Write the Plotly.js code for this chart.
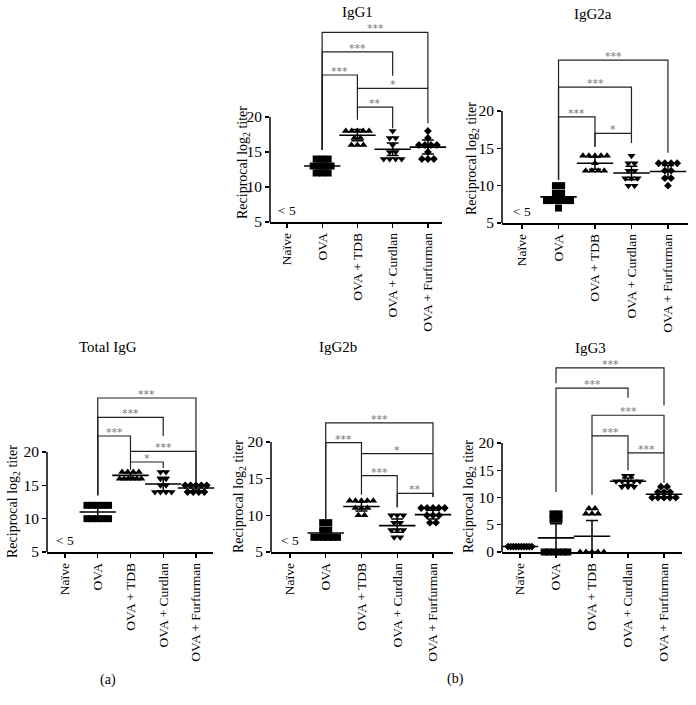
<!DOCTYPE html>
<html>
<head>
<meta charset="utf-8">
<script src="https://cdn.plot.ly/plotly-3.0.1.min.js"></script>
<style>html,body{margin:0;padding:0;background:#fff}#chart{width:696px;height:705px}</style>
</head>
<body>
<div id="chart"></div>
<script>
// ---------- DATA ----------
const categories = ['Naïve', 'OVA', 'OVA + TDB', 'OVA + Curdlan', 'OVA + Furfurman'];
const panelNames = ['IgG1', 'IgG2a', 'Total IgG', 'IgG2b', 'IgG3'];

// IgG1 (Naïve below detection: < 5)
const igg1OVA = [14, 14, 14, 13, 13, 13, 13, 12, 12, 12];
const igg1TDB = [18, 18, 18, 18, 18, 17, 17, 16, 16, 16];
const igg1Curdlan = [18, 17, 17, 16, 15, 15, 14, 14, 14, 14];
const igg1Furfurman = [18, 17, 16, 16, 16, 16, 15, 14, 14, 14];
const igg1Mean = [null, 13.0, 17.4, 15.4, 15.7];
const igg1Err = [0, 0.6, 0.8, 0.9, 1.0];

// IgG2a
const igg2aOVA = [10, 10, 9, 9, 8, 8, 8, 8, 8, 7];
const igg2aTDB = [14, 14, 14, 14, 14, 13, 12, 12, 12, 12];
const igg2aCurdlan = [14, 13, 13, 12, 12, 11, 11, 11, 10, 10];
const igg2aFurfurman = [13, 13, 13, 13, 12, 12, 11, 11, 10];
const igg2aMean = [null, 8.5, 13.0, 11.7, 11.9];
const igg2aErr = [0, 0.8, 0.8, 0.9, 0.8];

// Total IgG
const totalOVA = [12, 12, 12, 12, 12, 10, 10, 10, 10, 10];
const totalTDB = [17, 17, 17, 17, 16, 16, 16, 16, 16, 16];
const totalCurdlan = [17, 17, 16, 16, 15, 15, 14, 14, 14, 14];
const totalFurfurman = [15, 15, 15, 15, 15, 14, 14, 14, 14];
const totalMean = [null, 11.0, 16.5, 15.2, 14.6];
const totalErr = [0, 0.7, 0.4, 1.0, 0.4];

// IgG2b
const igg2bOVA = [9, 9, 8, 8, 7, 7, 7, 7, 7, 7];
const igg2bTDB = [12, 12, 12, 12, 12, 11, 11, 11, 10, 10];
const igg2bCurdlan = [10, 10, 10, 9, 9, 8, 8, 8, 7, 7];
const igg2bFurfurman = [11, 11, 11, 11, 11, 10, 10, 10, 9, 9];
const igg2bMean = [null, 7.6, 11.2, 8.6, 10.1];
const igg2bErr = [0, 0.5, 0.6, 0.9, 0.6];

// IgG3
const igg3Naive = [1, 1, 1, 1, 1, 1, 1, 1, 1, 1];
const igg3OVA = [7, 7, 6, 6, 0, 0, 0, 0, 0, 0];
const igg3TDB = [8, 8, 7, 7, 7, 0, 0, 0, 0, 0];
const igg3Curdlan = [14, 14, 13, 13, 13, 13, 13, 12, 12, 12];
const igg3Furfurman = [12, 12, 11, 11, 11, 10, 10, 10, 10, 10];
const igg3Mean = [1.0, 2.6, 2.9, 13.0, 10.6];
const igg3Err = [0, 2.6, 2.9, 0.6, 0.5];

const belowLabel = '< 5';

// significance brackets: [groupA, groupB, level, endA, endB, label]
const igg1Brackets = [
  [1, 4, 32.1, 15.3, 24.1, '***'],
  [1, 3, 29.3, 15.3, 25.9, '***'],
  [1, 2, 26.0, 15.3, 24.1, '***'],
  [2, 4, 24.1, 21.4, 19.1, '*'],
  [2, 3, 21.4, 19.6, 18.4, '**']
];
const igg2aBrackets = [
  [1, 4, 26.8, 10.8, 14.4, '***'],
  [1, 3, 23.2, 10.8, 17.0, '***'],
  [1, 2, 19.2, 10.8, 15.2, '***'],
  [2, 3, 17.0, 15.2, 15.7, '*']
];
const totalBrackets = [
  [1, 4, 28.1, 13.5, 15.5, '***'],
  [1, 3, 25.2, 13.5, 22.4, '***'],
  [1, 2, 22.4, 13.5, 20.1, '***'],
  [2, 4, 20.1, 18.5, 15.5, '***'],
  [2, 3, 18.5, 17.3, 17.6, '*']
];
const igg2bBrackets = [
  [1, 4, 22.6, 9.5, 18.4, '***'],
  [1, 2, 19.9, 9.5, 18.4, '***'],
  [2, 4, 18.4, 15.4, 12.5, '*'],
  [2, 3, 15.4, 12.8, 11.1, '***'],
  [3, 4, 13.0, 11.1, 12.5, '**']
];
const igg3Brackets = [
  [1, 4, 33.8, 31.0, 26.9, '***'],
  [1, 3, 30.1, 11.0, 28.3, '***'],
  [2, 4, 25.1, 21.3, 18.2, '***'],
  [2, 3, 21.3, 10.5, 18.2, '***'],
  [3, 4, 18.2, 15.0, 12.7, '***']
];

// ---------- LAYOUT CONFIG (pixels) ----------
const W = 696, H = 705;
const panels = [
  {groups: [null, igg1OVA, igg1TDB, igg1Curdlan, igg1Furfurman], mean: igg1Mean, err: igg1Err, br: igg1Brackets,
   px: [270, 442], py: [20, 222], xr: [-0.48, 4.40], yr: [5, 33.86], ticks: [5, 10, 15, 20], below: true,
   title: [357, 12], ytitle: [243, 163]},
  {groups: [null, igg2aOVA, igg2aTDB, igg2aCurdlan, igg2aFurfurman], mean: igg2aMean, err: igg2aErr, br: igg2aBrackets,
   px: [502, 688], py: [40, 223], xr: [-0.55, 4.55], yr: [5, 29.5], ticks: [5, 10, 15, 20], below: true,
   title: [593, 14], ytitle: [472, 158]},
  {groups: [null, totalOVA, totalTDB, totalCurdlan, totalFurfurman], mean: totalMean, err: totalErr, br: totalBrackets,
   px: [47, 213], py: [380, 552], xr: [-0.55, 4.52], yr: [5, 30.8], ticks: [5, 10, 15, 20], below: true,
   title: [108, 347], ytitle: [13, 502]},
  {groups: [null, igg2bOVA, igg2bTDB, igg2bCurdlan, igg2bFurfurman], mean: igg2bMean, err: igg2bErr, br: igg2bBrackets,
   px: [271, 453], py: [395, 552], xr: [-0.53, 4.56], yr: [5, 26.4], ticks: [5, 10, 15, 20], below: true,
   title: [338, 347], ytitle: [239, 497]},
  {groups: [igg3Naive, igg3OVA, igg3TDB, igg3Curdlan, igg3Furfurman], mean: igg3Mean, err: igg3Err, br: igg3Brackets,
   px: [502, 682], py: [345, 552], xr: [-0.5, 4.5], yr: [0, 38.0], ticks: [0, 5, 10, 15, 20], below: false,
   title: [590, 348], ytitle: [469, 497]}
];

const symbols = ['diamond', 'square', 'triangle-up', 'triangle-down', 'diamond'];
const sizes = [6, 7, 7, 7, 6];
const serif = 'Liberation Serif, Times New Roman, serif';

function spread(vals, center) {
  const counts = {}, seen = {};
  vals.forEach(v => counts[v] = (counts[v] || 0) + 1);
  return vals.map(v => {
    const n = counts[v];
    const k = seen[v] = (seen[v] === undefined ? 0 : seen[v] + 1);
    const step = n > 1 ? Math.min(0.17, 0.66 / (n - 1)) : 0;
    return center + (k - (n - 1) / 2) * step;
  });
}

const traces = [], shapes = [], annotations = [];
const layout = {
  width: W, height: H, margin: {l: 0, r: 0, t: 0, b: 0},
  paper_bgcolor: '#fff', plot_bgcolor: 'rgba(0,0,0,0)', showlegend: false,
  font: {family: serif, color: '#000'}
};

panels.forEach((p, i) => {
  const sfx = i === 0 ? '' : String(i + 1);
  const xa = 'x' + sfx, ya = 'y' + sfx;
  layout['xaxis' + sfx] = {
    domain: [p.px[0] / W, p.px[1] / W], range: p.xr, anchor: ya,
    showline: true, linecolor: '#000', linewidth: 1.5, ticks: 'outside', ticklen: 4, tickwidth: 1.2, tickcolor: '#000',
    tickvals: [0, 1, 2, 3, 4], ticktext: categories, tickangle: -90,
    tickfont: {family: serif, size: 13.5, color: '#000'}, showgrid: false, zeroline: false, fixedrange: true
  };
  layout['yaxis' + sfx] = {
    domain: [1 - p.py[1] / H, 1 - p.py[0] / H], range: p.yr, anchor: xa,
    showline: false, ticks: 'outside', ticklen: 4, tickwidth: 1.2, tickcolor: '#000',
    tickvals: p.ticks, tickfont: {family: serif, size: 15.5, color: '#000'},
    showgrid: false, zeroline: false, fixedrange: true
  };
  shapes.push({type: 'line', xref: xa + ' domain', yref: ya, x0: 0, x1: 0, y0: p.yr[0], y1: 20,
               line: {color: '#000', width: 1.5}});

  p.groups.forEach((g, gi) => {
    if (!g) return;
    traces.push({
      type: 'scatter', mode: 'markers', xaxis: xa, yaxis: ya, cliponaxis: false,
      x: spread(g, gi), y: g, hoverinfo: 'skip',
      marker: {symbol: symbols[gi], size: sizes[gi], color: '#000', line: {width: 0}}
    });
  });
  const mx = [], my = [], me = [];
  p.mean.forEach((m, gi) => { if (m !== null) { mx.push(gi); my.push(m); me.push(p.err[gi]); } });
  traces.push({
    type: 'scatter', mode: 'markers', xaxis: xa, yaxis: ya, cliponaxis: false,
    x: mx, y: my, hoverinfo: 'skip',
    marker: {symbol: 'line-ew', size: 26, color: '#000', line: {width: 1.6, color: '#000'}},
    error_y: {type: 'data', array: me, visible: true, width: 6, thickness: 1.5, color: '#000'}
  });

  p.br.forEach(b => {
    const [a, c, lev, ea, ec, lab] = b;
    shapes.push({type: 'path', xref: xa, yref: ya,
      path: `M ${a} ${ea} L ${a} ${lev} L ${c} ${lev} L ${c} ${ec}`,
      line: {color: '#222', width: 1.2}});
    annotations.push({xref: xa, yref: ya, x: (a + c) / 2, y: lev, text: lab, showarrow: false,
      xanchor: 'center', yanchor: 'bottom', yshift: -5,
      font: {family: 'DejaVu Sans, sans-serif', size: 11, color: '#777'}});
  });

  if (p.below) {
    annotations.push({xref: xa, yref: ya, x: 0, y: p.yr[0], text: belowLabel, showarrow: false,
      xanchor: 'center', yanchor: 'bottom', yshift: 2, font: {family: serif, size: 13.5, color: '#000'}});
  }
  annotations.push({xref: 'paper', yref: 'paper', x: p.title[0] / W, y: 1 - p.title[1] / H, text: panelNames[i],
    showarrow: false, xanchor: 'center', yanchor: 'middle', font: {family: serif, size: 15, color: '#000'}});
  annotations.push({xref: 'paper', yref: 'paper', x: p.ytitle[0] / W, y: 1 - p.ytitle[1] / H,
    text: 'Reciprocal log<sub>2</sub> titer', textangle: -90, showarrow: false,
    xanchor: 'center', yanchor: 'middle', font: {family: serif, size: 14, color: '#000'}});
});

annotations.push({xref: 'paper', yref: 'paper', x: 108 / W, y: 1 - 680 / H, text: '(a)', showarrow: false,
  xanchor: 'center', yanchor: 'middle', font: {family: serif, size: 14, color: '#000'}});
annotations.push({xref: 'paper', yref: 'paper', x: 455 / W, y: 1 - 679 / H, text: '(b)', showarrow: false,
  xanchor: 'center', yanchor: 'middle', font: {family: serif, size: 14, color: '#000'}});

layout.shapes = shapes;
layout.annotations = annotations;

Plotly.newPlot('chart', traces, layout, {staticPlot: true, displayModeBar: false});
</script>
</body>
</html>
